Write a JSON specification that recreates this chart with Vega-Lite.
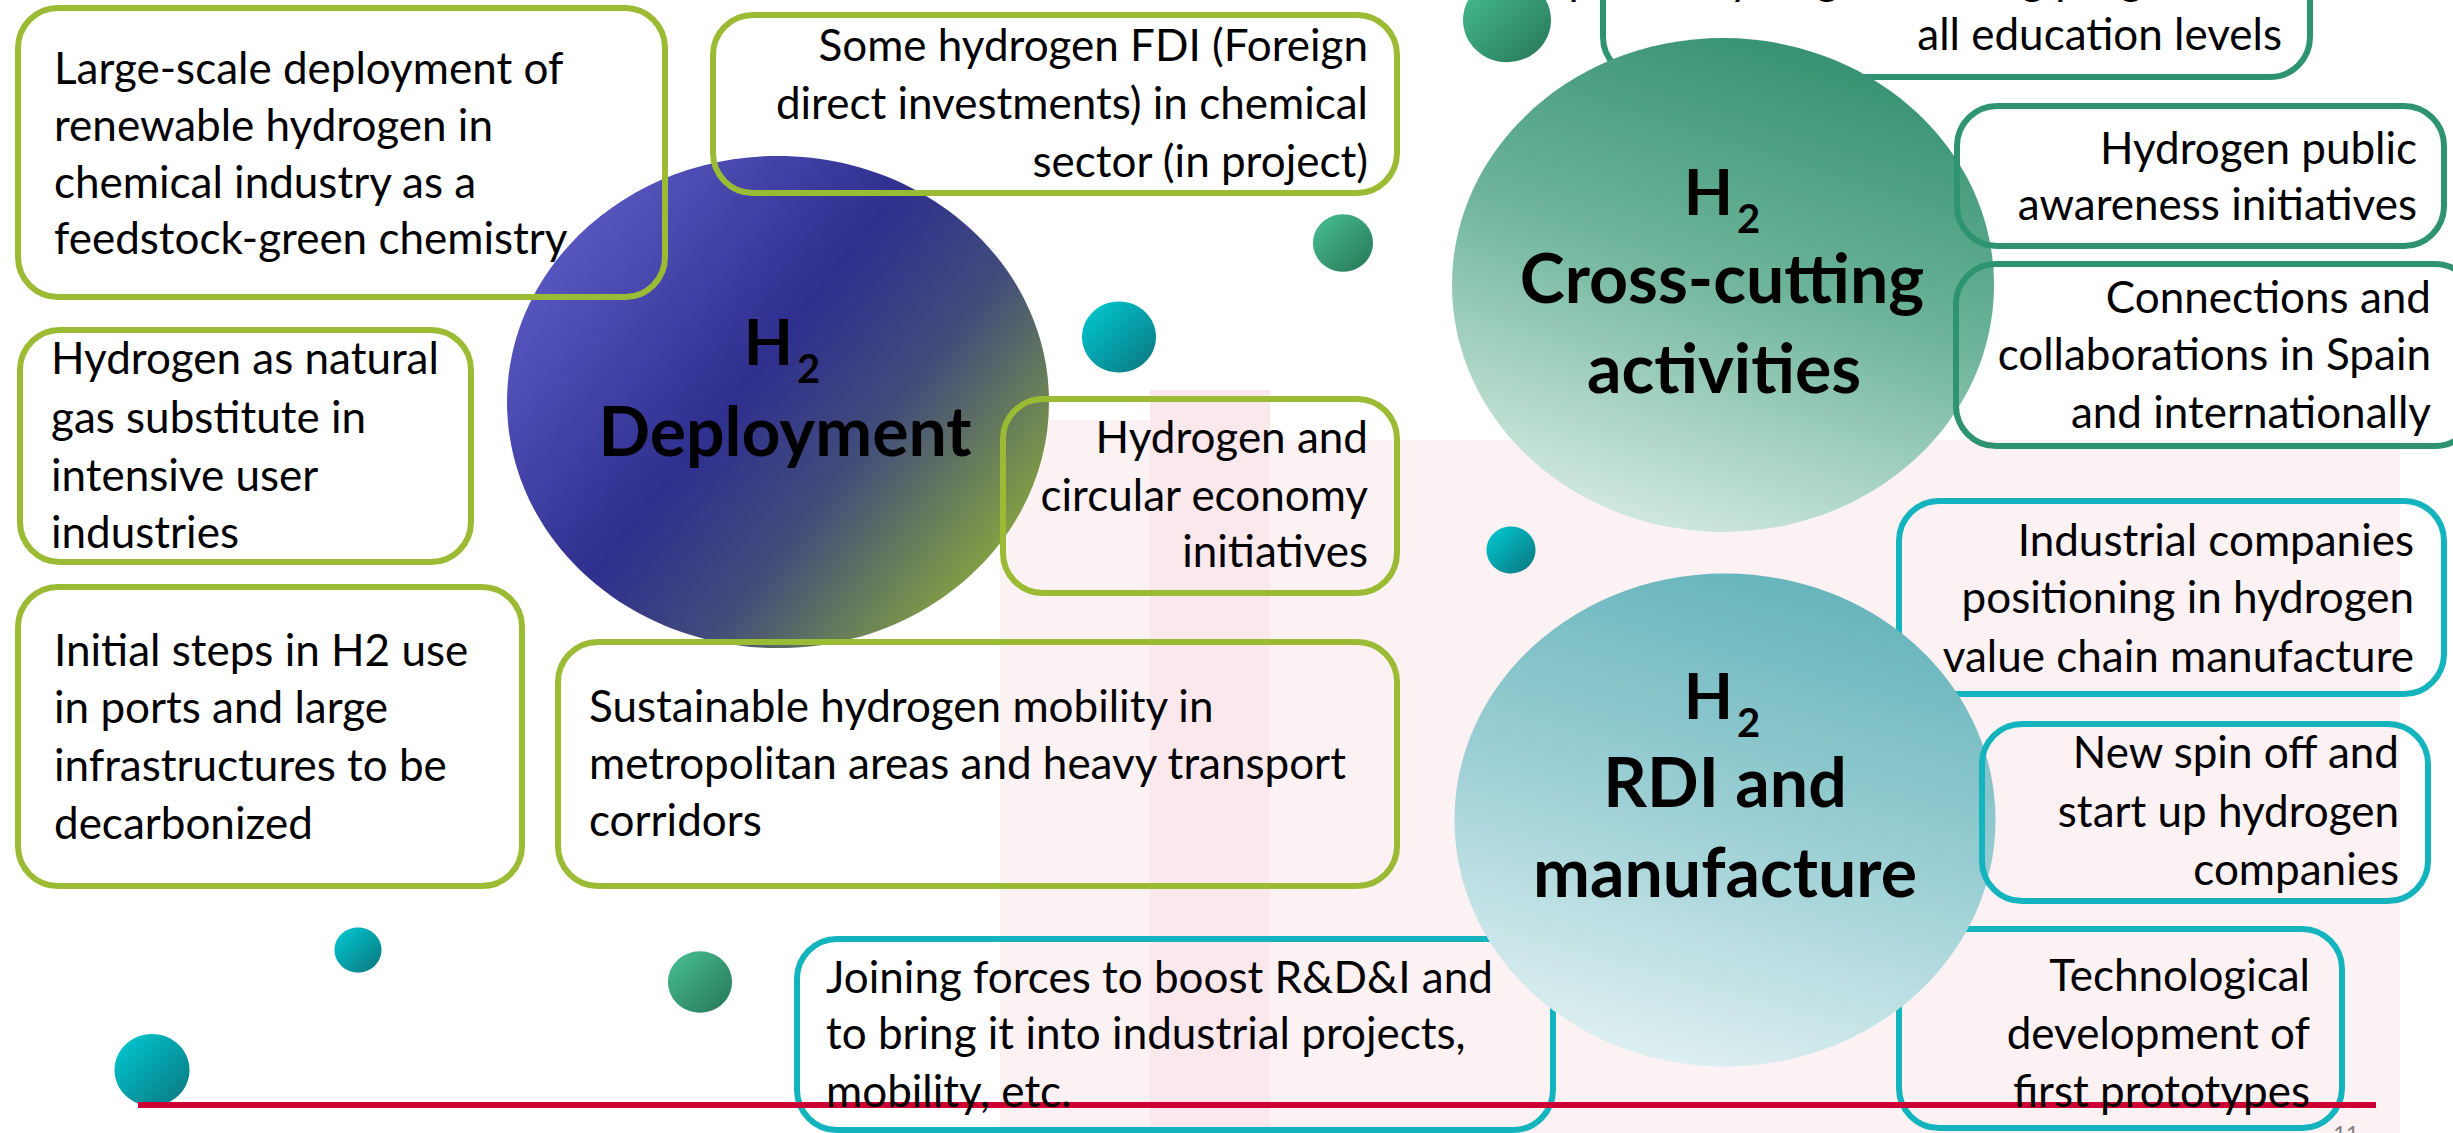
{
  "$schema": "https://vega.github.io/schema/vega-lite/v6.json",
  "width": 2453,
  "height": 1133,
  "padding": 0,
  "autosize": {"type": "none"},
  "background": "white",
  "config": {"view": {"stroke": null}},
  "datasets": {
    "bg": [
      {"x": 1150, "x2": 1270, "y": 390, "y2": 1133, "o": "a"},
      {"x": 1270, "x2": 2400, "y": 440, "y2": 1133, "o": "b"},
      {"x": 1000, "x2": 1150, "y": 420, "y2": 1133, "o": "b"}
    ],
    "big": [
      {"id": "dep", "x": 778, "y": 402, "d": 542},
      {"id": "cross", "x": 1723, "y": 285, "d": 542},
      {"id": "rdi", "x": 1725, "y": 820, "d": 541}
    ],
    "dots": [
      {"tone": "green", "x": 1507, "y": 20, "d": 88},
      {"tone": "green", "x": 1343, "y": 243, "d": 60},
      {"tone": "green", "x": 700, "y": 982, "d": 64},
      {"tone": "teal", "x": 1119, "y": 337, "d": 74},
      {"tone": "teal", "x": 1511, "y": 550, "d": 49},
      {"tone": "teal", "x": 358, "y": 950, "d": 47},
      {"tone": "teal", "x": 152, "y": 1070, "d": 75}
    ],
    "boxes": [
      {"id": "A", "g": "deploy", "under": 0, "x": 18, "x2": 665, "y": 8, "y2": 297},
      {"id": "B", "g": "deploy", "under": 0, "x": 713, "x2": 1397, "y": 15, "y2": 193},
      {"id": "C", "g": "deploy", "under": 0, "x": 20, "x2": 471, "y": 330, "y2": 562},
      {"id": "D", "g": "deploy", "under": 0, "x": 1003, "x2": 1397, "y": 399, "y2": 593},
      {"id": "E", "g": "deploy", "under": 0, "x": 18, "x2": 522, "y": 587, "y2": 886},
      {"id": "F", "g": "deploy", "under": 0, "x": 558, "x2": 1397, "y": 642, "y2": 886},
      {"id": "G", "g": "rdi", "under": 1, "x": 797, "x2": 1553, "y": 939, "y2": 1130},
      {"id": "H", "g": "cross", "under": 1, "x": 1603, "x2": 2310, "y": -80, "y2": 77},
      {"id": "I", "g": "cross", "under": 0, "x": 1957, "x2": 2444, "y": 106, "y2": 246},
      {"id": "J", "g": "cross", "under": 0, "x": 1956, "x2": 2475, "y": 264, "y2": 446},
      {"id": "K", "g": "rdi", "under": 1, "x": 1899, "x2": 2444, "y": 501, "y2": 694},
      {"id": "L", "g": "rdi", "under": 0, "x": 1982, "x2": 2428, "y": 724, "y2": 901},
      {"id": "M", "g": "rdi", "under": 1, "x": 1899, "x2": 2342, "y": 929, "y2": 1128}
    ],
    "lines": [
      {"side": "L", "x": 54, "y": 84, "t": "Large-scale deployment of"},
      {"side": "L", "x": 54, "y": 141, "t": "renewable hydrogen in"},
      {"side": "L", "x": 54, "y": 198, "t": "chemical industry as a"},
      {"side": "L", "x": 54, "y": 254, "t": "feedstock-green chemistry"},
      {"side": "L", "x": 51, "y": 374, "t": "Hydrogen as natural"},
      {"side": "L", "x": 51, "y": 433, "t": "gas substitute in"},
      {"side": "L", "x": 51, "y": 491, "t": "intensive user"},
      {"side": "L", "x": 51, "y": 548, "t": "industries"},
      {"side": "L", "x": 54, "y": 666, "t": "Initial steps in H2 use"},
      {"side": "L", "x": 54, "y": 723, "t": "in ports and large"},
      {"side": "L", "x": 54, "y": 781, "t": "infrastructures to be"},
      {"side": "L", "x": 54, "y": 839, "t": "decarbonized"},
      {"side": "L", "x": 589, "y": 722, "t": "Sustainable hydrogen mobility in"},
      {"side": "L", "x": 589, "y": 779, "t": "metropolitan areas and heavy transport"},
      {"side": "L", "x": 589, "y": 836, "t": "corridors"},
      {"side": "L", "x": 826, "y": 993, "t": "Joining forces to boost R&D&I and"},
      {"side": "L", "x": 826, "y": 1049, "t": "to bring it into industrial projects,"},
      {"side": "L", "x": 826, "y": 1107, "t": "mobility, etc."},
      {"side": "R", "x": 1368, "y": 61, "t": "Some hydrogen FDI (Foreign"},
      {"side": "R", "x": 1368, "y": 119, "t": "direct investments) in chemical"},
      {"side": "R", "x": 1368, "y": 177, "t": "sector (in project)"},
      {"side": "R", "x": 1368, "y": 453, "t": "Hydrogen and"},
      {"side": "R", "x": 1368, "y": 511, "t": "circular economy"},
      {"side": "R", "x": 1368, "y": 567, "t": "initiatives"},
      {"side": "R", "x": 2282, "y": -6, "t": "Specific hydrogen training programs in"},
      {"side": "R", "x": 2282, "y": 50, "t": "all education levels"},
      {"side": "R", "x": 2417, "y": 164, "t": "Hydrogen public"},
      {"side": "R", "x": 2417, "y": 220, "t": "awareness initiatives"},
      {"side": "R", "x": 2431, "y": 313, "t": "Connections and"},
      {"side": "R", "x": 2431, "y": 370, "t": "collaborations in Spain"},
      {"side": "R", "x": 2431, "y": 428, "t": "and internationally"},
      {"side": "R", "x": 2414, "y": 556, "t": "Industrial companies"},
      {"side": "R", "x": 2414, "y": 613, "t": "positioning  in hydrogen"},
      {"side": "R", "x": 2414, "y": 672, "t": "value chain manufacture"},
      {"side": "R", "x": 2399, "y": 768, "t": "New spin off and"},
      {"side": "R", "x": 2399, "y": 827, "t": "start up hydrogen"},
      {"side": "R", "x": 2399, "y": 885, "t": "companies"},
      {"side": "R", "x": 2310, "y": 991, "t": "Technological"},
      {"side": "R", "x": 2310, "y": 1049, "t": "development of"},
      {"side": "R", "x": 2310, "y": 1107, "t": "first prototypes"}
    ],
    "labels": [
      {"x": 785, "y": 456, "t": "Deployment"},
      {"x": 1722, "y": 303, "t": "Cross-cutting"},
      {"x": 1724, "y": 393, "t": "activities"},
      {"x": 1725, "y": 807, "t": "RDI and"},
      {"x": 1725, "y": 897, "t": "manufacture"}
    ],
    "hs": [
      {"x": 793, "y": 365, "t": "H"},
      {"x": 1733, "y": 215, "t": "H"},
      {"x": 1733, "y": 719, "t": "H"}
    ],
    "subs": [
      {"x": 797, "y": 383, "t": "2"},
      {"x": 1737, "y": 233, "t": "2"},
      {"x": 1737, "y": 737, "t": "2"}
    ],
    "rule": [{"x": 138, "x2": 2376, "y": 1105}],
    "page": [{"x": 2346, "y": 1124, "t": "11"}]
  },
  "encoding": {
    "x": {"field": "x", "type": "quantitative", "scale": {"domain": [0, 2453], "nice": false, "zero": false}, "axis": null},
    "y": {"field": "y", "type": "quantitative", "scale": {"domain": [0, 1133], "nice": false, "zero": false, "reverse": true}, "axis": null}
  },
  "layer": [
    {
      "data": {"name": "bg"},
      "transform": [{"filter": "datum.o == 'a'"}],
      "mark": {"type": "rect", "fill": "#f6cdd4", "opacity": 0.45},
      "encoding": {"x2": {"field": "x2"}, "y2": {"field": "y2"}}
    },
    {
      "data": {"name": "bg"},
      "transform": [{"filter": "datum.o == 'b'"}],
      "mark": {"type": "rect", "fill": "#f6cdd4", "opacity": 0.28},
      "encoding": {"x2": {"field": "x2"}, "y2": {"field": "y2"}}
    },
    {
      "data": {"name": "boxes"},
      "transform": [{"filter": "datum.under == 1"}],
      "mark": {"type": "rect", "fill": null, "fillOpacity": 0, "strokeWidth": 6, "cornerRadius": 40},
      "encoding": {
        "x2": {"field": "x2"}, "y2": {"field": "y2"},
        "stroke": {"field": "g", "type": "nominal", "scale": {"domain": ["deploy", "cross", "rdi"], "range": ["#9bbb35", "#2e9370", "#14b4bf"]}, "legend": null}
      }
    },
    {
      "data": {"name": "big"},
      "transform": [{"filter": "datum.id == 'dep'"}],
      "mark": {"type": "point", "shape": "M-1,0A1,0.908,0,1,1,1,0A1,0.908,0,1,1,-1,0Z", "filled": true, "opacity": 1, "strokeWidth": 0,
        "fill": {"gradient": "linear", "x1": 0.05, "y1": 0.15, "x2": 0.95, "y2": 0.8,
          "stops": [{"offset": 0, "color": "#5d5cc6"}, {"offset": 0.45, "color": "#2f2f8f"}, {"offset": 0.68, "color": "#424d7a"}, {"offset": 1, "color": "#8aa83e"}]}},
      "encoding": {"size": {"field": "d", "type": "quantitative", "scale": {"type": "pow", "exponent": 2, "domain": [0, 2453], "range": [0, 6017209]}, "legend": null}}
    },
    {
      "data": {"name": "big"},
      "transform": [{"filter": "datum.id == 'cross'"}],
      "mark": {"type": "point", "shape": "M-1,0A1,0.911,0,1,1,1,0A1,0.911,0,1,1,-1,0Z", "filled": true, "opacity": 1, "strokeWidth": 0,
        "fill": {"gradient": "linear", "x1": 0.6, "y1": 0, "x2": 0.25, "y2": 1,
          "stops": [{"offset": 0, "color": "#379272"}, {"offset": 0.45, "color": "#6db49a"}, {"offset": 1, "color": "#d9ede5"}]}},
      "encoding": {"size": {"field": "d", "type": "quantitative", "scale": {"type": "pow", "exponent": 2, "domain": [0, 2453], "range": [0, 6017209]}, "legend": null}}
    },
    {
      "data": {"name": "big"},
      "transform": [{"filter": "datum.id == 'rdi'"}],
      "mark": {"type": "point", "shape": "M-1,0A1,0.911,0,1,1,1,0A1,0.911,0,1,1,-1,0Z", "filled": true, "opacity": 1, "strokeWidth": 0,
        "fill": {"gradient": "linear", "x1": 0.6, "y1": 0, "x2": 0.3, "y2": 1,
          "stops": [{"offset": 0, "color": "#66b4bb"}, {"offset": 0.5, "color": "#9dd0d5"}, {"offset": 1, "color": "#e2f1f3"}]}},
      "encoding": {"size": {"field": "d", "type": "quantitative", "scale": {"type": "pow", "exponent": 2, "domain": [0, 2453], "range": [0, 6017209]}, "legend": null}}
    },
    {
      "data": {"name": "dots"},
      "transform": [{"filter": "datum.tone == 'green'"}],
      "mark": {"type": "point", "shape": "M-1,0A1,0.96,0,1,1,1,0A1,0.96,0,1,1,-1,0Z", "filled": true, "opacity": 1, "strokeWidth": 0,
        "fill": {"gradient": "linear", "x1": 0.1, "y1": 0.1, "x2": 0.9, "y2": 0.9,
          "stops": [{"offset": 0, "color": "#45b98f"}, {"offset": 1, "color": "#2a7d5c"}]}},
      "encoding": {"size": {"field": "d", "type": "quantitative", "scale": {"type": "pow", "exponent": 2, "domain": [0, 2453], "range": [0, 6017209]}, "legend": null}}
    },
    {
      "data": {"name": "dots"},
      "transform": [{"filter": "datum.tone == 'teal'"}],
      "mark": {"type": "point", "shape": "M-1,0A1,0.96,0,1,1,1,0A1,0.96,0,1,1,-1,0Z", "filled": true, "opacity": 1, "strokeWidth": 0,
        "fill": {"gradient": "linear", "x1": 0.1, "y1": 0.1, "x2": 0.9, "y2": 0.9,
          "stops": [{"offset": 0, "color": "#00c3cc"}, {"offset": 1, "color": "#0b7d86"}]}},
      "encoding": {"size": {"field": "d", "type": "quantitative", "scale": {"type": "pow", "exponent": 2, "domain": [0, 2453], "range": [0, 6017209]}, "legend": null}}
    },
    {
      "data": {"name": "boxes"},
      "transform": [{"filter": "datum.under == 0"}],
      "mark": {"type": "rect", "fill": null, "fillOpacity": 0, "strokeWidth": 6, "cornerRadius": 40},
      "encoding": {
        "x2": {"field": "x2"}, "y2": {"field": "y2"},
        "stroke": {"field": "g", "type": "nominal", "scale": {"domain": ["deploy", "cross", "rdi"], "range": ["#9bbb35", "#2e9370", "#14b4bf"]}, "legend": null}
      }
    },
    {
      "data": {"name": "rule"},
      "mark": {"type": "rule", "color": "#cc0033", "strokeWidth": 6},
      "encoding": {"x2": {"field": "x2"}}
    },
    {
      "data": {"name": "lines"},
      "transform": [{"filter": "datum.side == 'L'"}],
      "mark": {"type": "text", "align": "left", "baseline": "alphabetic", "font": "Lato", "fontSize": 44, "color": "#000000"},
      "encoding": {"text": {"field": "t"}}
    },
    {
      "data": {"name": "lines"},
      "transform": [{"filter": "datum.side == 'R'"}],
      "mark": {"type": "text", "align": "right", "baseline": "alphabetic", "font": "Lato", "fontSize": 44, "color": "#000000"},
      "encoding": {"text": {"field": "t"}}
    },
    {
      "data": {"name": "labels"},
      "mark": {"type": "text", "align": "center", "baseline": "alphabetic", "font": "Lato", "fontWeight": "bold", "fontSize": 68, "color": "#000000"},
      "encoding": {"text": {"field": "t"}}
    },
    {
      "data": {"name": "hs"},
      "mark": {"type": "text", "align": "right", "baseline": "alphabetic", "font": "Lato", "fontWeight": "bold", "fontSize": 64, "color": "#000000"},
      "encoding": {"text": {"field": "t"}}
    },
    {
      "data": {"name": "subs"},
      "mark": {"type": "text", "align": "left", "baseline": "alphabetic", "font": "Lato", "fontWeight": "bold", "fontSize": 40, "color": "#000000"},
      "encoding": {"text": {"field": "t"}}
    },
    {
      "data": {"name": "page"},
      "mark": {"type": "text", "align": "center", "baseline": "top", "font": "Lato", "fontSize": 22, "color": "#7f7f7f"},
      "encoding": {"text": {"field": "t"}}
    }
  ]
}
